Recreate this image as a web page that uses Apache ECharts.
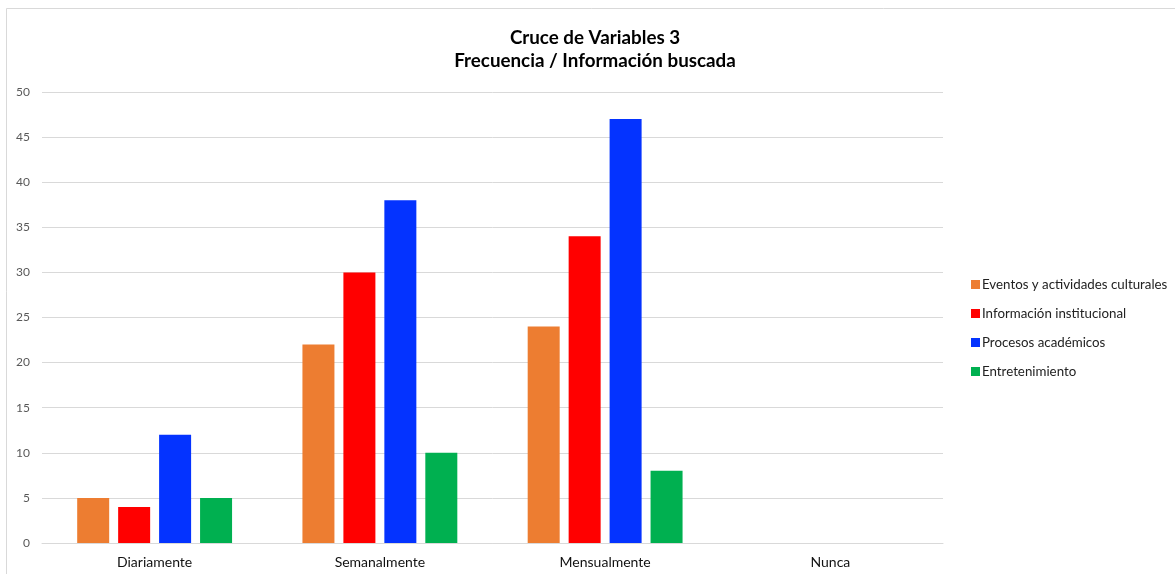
<!DOCTYPE html>
<html>
<head>
<meta charset="utf-8">
<script src="https://cdn.jsdelivr.net/npm/echarts@6/dist/echarts.min.js"></script>
<style>
html,body{margin:0;padding:0;background:#fff;}
#c{width:1175px;height:574px;}
</style>
</head>
<body>
<div id="c"></div>
<script>
var categories = ['Diariamente', 'Semanalmente', 'Mensualmente', 'Nunca'];
var seriesNames = ['Eventos y actividades culturales', 'Información institucional', 'Procesos académicos', 'Entretenimiento'];
var eventos = [5, 22, 24, 0];
var informacion = [4, 30, 34, 0];
var procesos = [12, 38, 47, 0];
var entretenimiento = [5, 10, 8, 0];
var colors = ['#ED7D31', '#FF0000', '#0433FF', '#00B050'];
var values = [eventos, informacion, procesos, entretenimiento];

var font = 'Lato, "Open Sans", sans-serif';
var chart = echarts.init(document.getElementById('c'), null, {renderer: 'canvas'});
chart.setOption({
  animation: false,
  backgroundColor: '#fff',
  graphic: [{
    type: 'rect', silent: true,
    shape: {x: 6.5, y: 8.5, width: 1300, height: 700},
    style: {fill: 'none', stroke: '#d9d9d9', lineWidth: 1}
  }],
  title: {
    text: 'Cruce de Variables 3\nFrecuencia / Información buscada',
    left: 590, top: 21, textAlign: 'center',
    textStyle: {fontFamily: font, fontSize: 18.8, fontWeight: 'bold', color: '#000', lineHeight: 23}
  },
  legend: {
    orient: 'vertical', left: 966, top: 273,
    itemWidth: 9, itemHeight: 9, itemGap: 16, icon: 'rect',
    textStyle: {fontFamily: font, fontSize: 13.3, color: '#222', padding: [0, 0, 0, -3]},
    data: seriesNames
  },
  grid: {left: 42, right: 232, top: 92, bottom: 31, containLabel: false},
  xAxis: {
    type: 'category', data: categories,
    axisLine: {show: true, lineStyle: {color: '#d9d9d9'}},
    axisTick: {show: false},
    axisLabel: {fontFamily: font, fontSize: 14, color: '#111', margin: 12}
  },
  yAxis: {
    type: 'value', min: 0, max: 50, interval: 5,
    axisLine: {show: false}, axisTick: {show: false},
    axisLabel: {fontFamily: font, fontSize: 12, color: '#595959', margin: 12},
    splitLine: {lineStyle: {color: '#d9d9d9'}}
  },
  series: seriesNames.map(function (n, i) {
    return {
      name: n, type: 'bar', data: values[i], barWidth: 32, barGap: '28%',
      itemStyle: {color: colors[i]}
    };
  })
});
</script>
</body>
</html>
